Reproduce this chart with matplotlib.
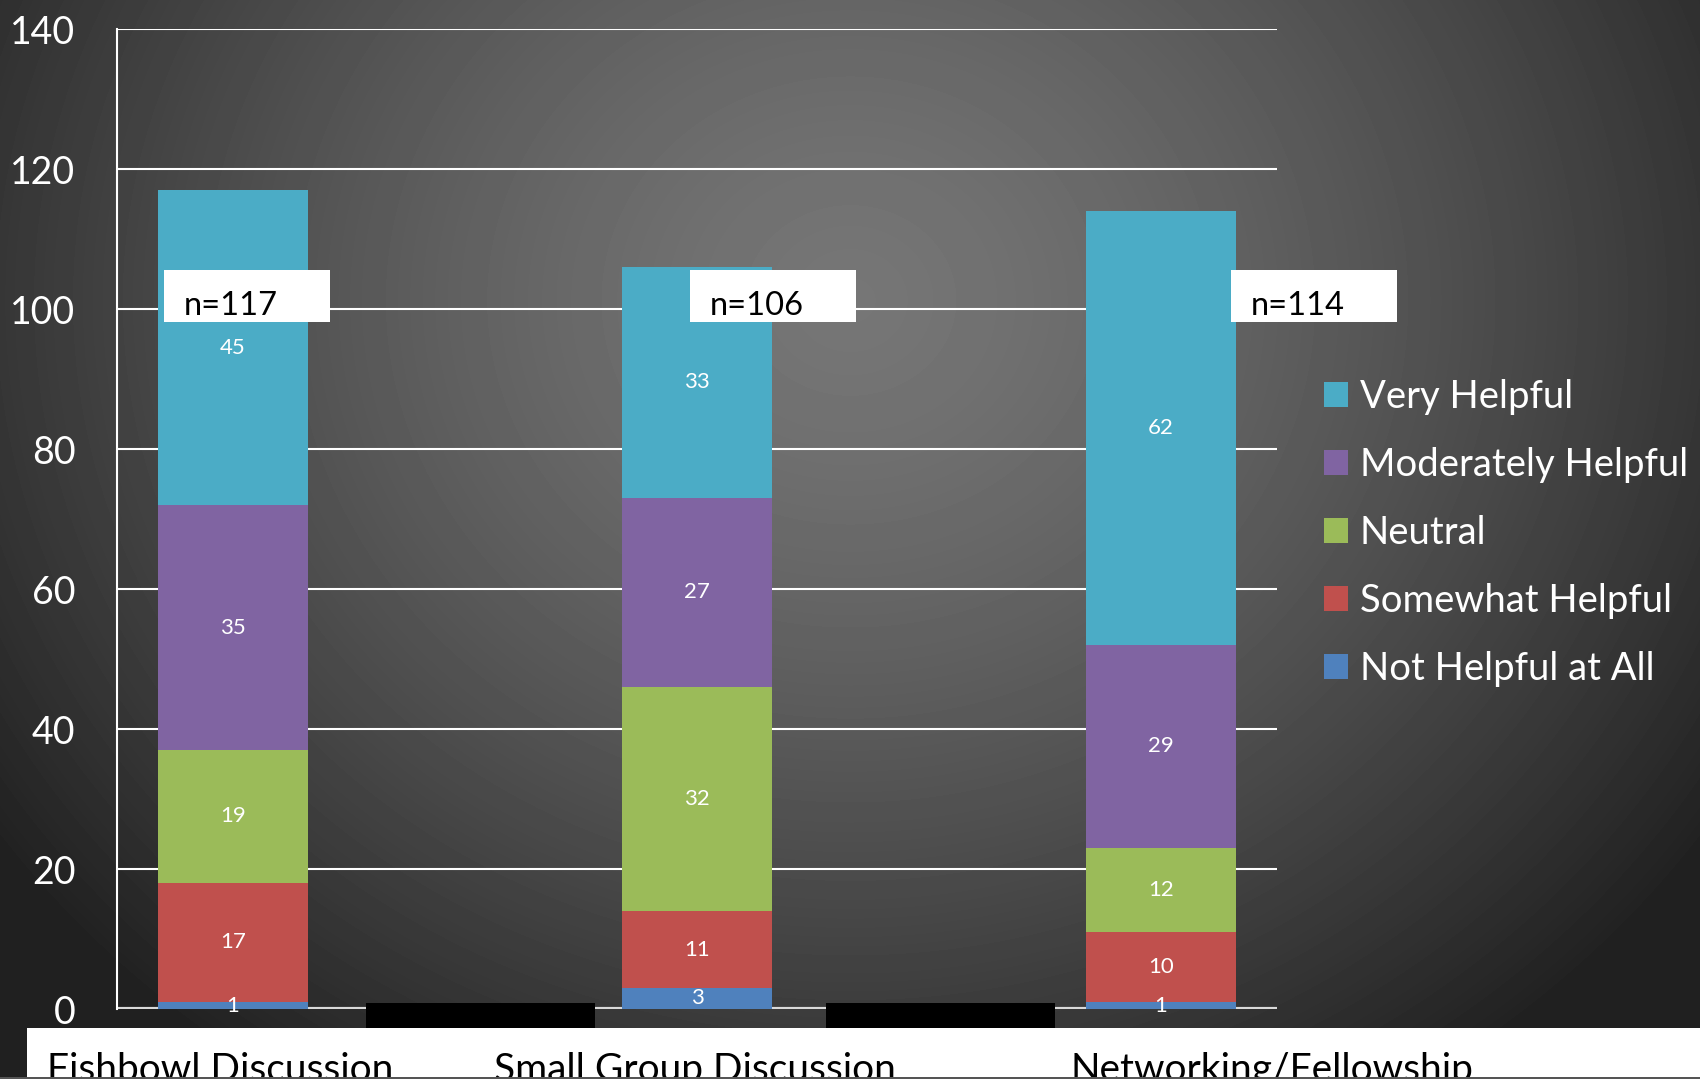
import numpy as np
import matplotlib
matplotlib.use("Agg")
import matplotlib.pyplot as plt
from matplotlib.patches import Patch, Rectangle

plt.rcParams['font.family'] = ['Lato', 'DejaVu Sans']

categories = ['Fishbowl Discussion', 'Small Group Discussion', 'Networking/Fellowship']
series = ['Not Helpful at All', 'Somewhat Helpful', 'Neutral', 'Moderately Helpful', 'Very Helpful']
not_helpful = [1, 3, 1]
somewhat = [17, 11, 10]
neutral = [19, 32, 12]
moderately = [35, 27, 29]
very = [45, 33, 62]
totals = [117, 106, 114]
colors = ['#4F81BD', '#C0504D', '#9BBB59', '#8064A2', '#4BACC6']

W, H = 1700, 1079
fig = plt.figure(figsize=(W / 100, H / 100), dpi=100)

# radial grey background
bg = fig.add_axes([0, 0, 1, 1], zorder=-10)
yy, xx = np.mgrid[0:H, 0:W]
r = np.sqrt(((xx - 850) / 1000.0) ** 2 + ((yy - 300) / 900.0) ** 2)
val = np.clip(118 - 80 * r ** 1.4, 32, 255) / 255.0
bg.imshow(val, cmap='gray', vmin=0, vmax=1, aspect='auto', interpolation='bilinear')
bg.set_axis_off()

ax = fig.add_axes([117 / W, 70 / H, 1160 / W, 980 / H])
ax.set_facecolor('none')
ax.set_xlim(-0.25, 2.25)
ax.set_ylim(0, 140)
ax.set_yticks(range(0, 141, 20))
ax.set_xticks([])
ax.tick_params(axis='y', length=0, labelsize=27, labelcolor='white', pad=30)
for s in ['top', 'right', 'bottom']:
    ax.spines[s].set_visible(False)
ax.spines['left'].set_color('white')
ax.spines['left'].set_linewidth(1.5)
ax.yaxis.grid(True, color='white', linewidth=1.5)
ax.set_axisbelow(True)
ax.axhline(0, color='#d9d9d9', linewidth=3, zorder=1)

x = np.arange(len(categories))
data = [not_helpful, somewhat, neutral, moderately, very]
bottom = np.zeros(len(categories))
for name, vals, c in zip(series, data, colors):
    ax.bar(x, vals, width=0.323, bottom=bottom, color=c, label=name, zorder=2)
    for xi, b, v in zip(x, bottom, vals):
        ax.text(xi, b + v / 2, str(v), color='white', fontsize=16,
                ha='center', va='center', zorder=3)
    bottom += np.array(vals)

# n= boxes
box_off = [-0.149, -0.016, 0.151]
for xi, off, n in zip(x, box_off, totals):
    ax.add_patch(Rectangle((xi + off, 98.1), 0.358, 7.5, facecolor='white',
                           edgecolor='none', zorder=4, clip_on=False))
    ax.text(xi + off + 0.043, 99.1, f'n={n}', color='black', fontsize=23.5,
            ha='left', va='baseline', zorder=5, clip_on=False)

handles = [Patch(facecolor=c, label=s) for s, c in zip(series, colors)][::-1]
fig.legend(handles=handles, loc='upper left', bbox_to_anchor=(1324 / W, 1 - 379 / H),
           frameon=False, fontsize=27.5, labelcolor='white', borderpad=0, borderaxespad=0,
           handlelength=0.63, handleheight=0.63, handletextpad=0.31, labelspacing=0.84)

# bottom strip with category labels
fig.add_artist(Rectangle((27 / W, 0), 1 - 27 / W, (H - 1028) / H, transform=fig.transFigure,
                         facecolor='white', edgecolor='none', zorder=20))
for xs in [366, 826]:
    fig.add_artist(Rectangle((xs / W, (H - 1028) / H), 229 / W, 25 / H,
                             transform=fig.transFigure, facecolor='black',
                             edgecolor='none', zorder=21))
for xs, cat in zip([47, 494, 1071], categories):
    fig.text(xs / W, (H - 1081) / H, cat, fontsize=28, color='black',
             ha='left', va='baseline', zorder=22)
fig.add_artist(Rectangle((0, 0), 1, 2 / H, transform=fig.transFigure,
                         facecolor='#555555', edgecolor='none', zorder=23))

fig.savefig('out.png', dpi=100)
